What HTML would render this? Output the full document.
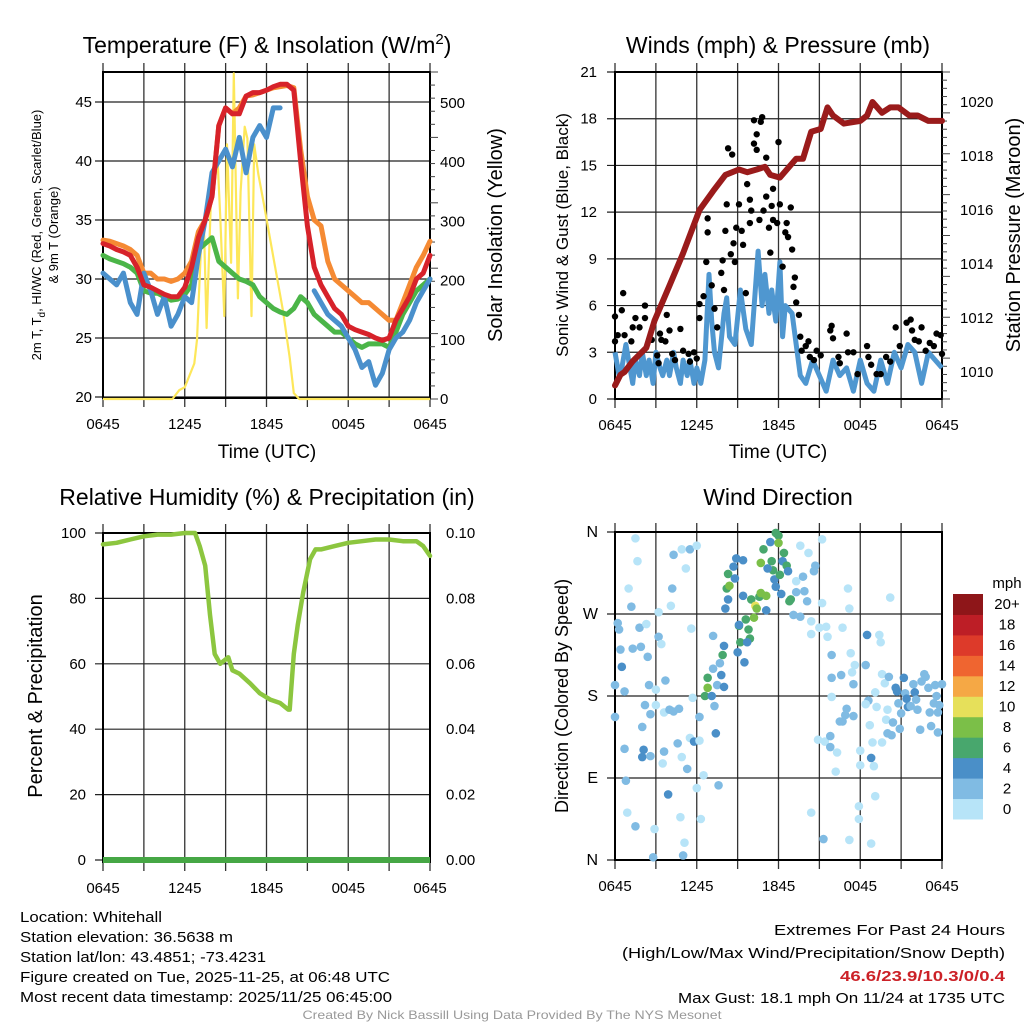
<!DOCTYPE html>
<html><head><meta charset="utf-8"><style>
html,body{margin:0;padding:0;background:#fff;}
svg{display:block;font-family:"Liberation Sans",Arial,sans-serif;}
</style></head><body>
<svg id="svg" width="1024" height="1024" viewBox="0 0 1024 1024" xmlns="http://www.w3.org/2000/svg">
<rect width="1024" height="1024" fill="#fff"/>
<text x="267" y="53" font-size="23" text-anchor="middle">Temperature (F) &amp; Insolation (W/m<tspan dy="-9" font-size="15">2</tspan><tspan dy="9">)</tspan></text>
<text x="778" y="53" font-size="23" text-anchor="middle">Winds (mph) &amp; Pressure (mb)</text>
<text x="267" y="505" font-size="23" text-anchor="middle">Relative Humidity (%) &amp; Precipitation (in)</text>
<text x="778" y="505" font-size="23" text-anchor="middle">Wind Direction</text>
<text x="267" y="458" font-size="19" text-anchor="middle">Time (UTC)</text>
<text x="778" y="458" font-size="19" text-anchor="middle">Time (UTC)</text>
<text transform="translate(41,235) rotate(-90)" font-size="13" text-anchor="middle">2m T, T<tspan dy="4" font-size="10">d</tspan><tspan dy="-4">, HI/WC (Red, Green, Scarlet/Blue)</tspan></text>
<text transform="translate(58,235) rotate(-90)" font-size="13" text-anchor="middle">&amp; 9m T (Orange)</text>
<text transform="translate(502,235) rotate(-90)" font-size="20" text-anchor="middle">Solar Insolation (Yellow)</text>
<text transform="translate(568,235) rotate(-90)" font-size="17" text-anchor="middle">Sonic Wind &amp; Gust (Blue, Black)</text>
<text transform="translate(1020,235) rotate(-90)" font-size="20" text-anchor="middle">Station Pressure (Maroon)</text>
<text transform="translate(42,696) rotate(-90)" font-size="20" text-anchor="middle">Percent &amp; Precipitation</text>
<text transform="translate(568,696) rotate(-90)" font-size="18" text-anchor="middle">Direction (Colored By Speed)</text>
<g font-size="15">
<text x="20" y="922" textLength="142" lengthAdjust="spacingAndGlyphs">Location: Whitehall</text>
<text x="20" y="942" textLength="213" lengthAdjust="spacingAndGlyphs">Station elevation: 36.5638 m</text>
<text x="20" y="962" textLength="246" lengthAdjust="spacingAndGlyphs">Station lat/lon: 43.4851; -73.4231</text>
<text x="20" y="982" textLength="370" lengthAdjust="spacingAndGlyphs">Figure created on Tue, 2025-11-25, at 06:48 UTC</text>
<text x="20" y="1002" textLength="372" lengthAdjust="spacingAndGlyphs">Most recent data timestamp: 2025/11/25 06:45:00</text>
</g>
<g font-size="15" text-anchor="end">
<text x="1005" y="935" textLength="231" lengthAdjust="spacingAndGlyphs">Extremes For Past 24 Hours</text>
<text x="1005" y="958" textLength="383" lengthAdjust="spacingAndGlyphs">(High/Low/Max Wind/Precipitation/Snow Depth)</text>
<text x="1005" y="981" textLength="165" lengthAdjust="spacingAndGlyphs" font-weight="bold" fill="#cc2127">46.6/23.9/10.3/0/0.4</text>
<text x="1005" y="1003" textLength="327" lengthAdjust="spacingAndGlyphs">Max Gust: 18.1 mph On 11/24 at 1735 UTC</text>
</g>
<text x="512" y="1019" font-size="12" fill="#999" text-anchor="middle" textLength="419" lengthAdjust="spacingAndGlyphs">Created By Nick Bassill Using Data Provided By The NYS Mesonet</text>
</svg>
<script>
const xTickLabels = ["0645","","1245","","1845","","0045","","0645"];
const halfHours = [0,0.5,1,1.5,2,2.5,3,3.5,4,4.5,5,5.5,6,6.5,7,7.5,8,8.5,9,9.5,10,10.5,11,11.5,12,12.5,13,13.5,14,14.5,15,15.5,16,16.5,17,17.5,18,18.5,19,19.5,20,20.5,21,21.5,22,22.5,23,23.5,24];
const temp2m = [33,32.8,32.5,32.3,32,31,29.5,29.3,29,28.7,28.5,28.5,29.3,31,33.5,35,37,43,44.5,44,44,45.5,45.8,45.8,46,46.3,46.5,46.5,46,40,34.5,31,29.5,28.5,27.5,27,26,25.7,25.5,25.3,25,24.8,25,26.5,27.5,28.5,30,30.5,32];
const temp9m = [33.3,33.2,33,32.8,32.5,32,30.5,30.5,30,30,29.8,30,30.5,31.5,34,35,37,43,44.5,44,44.5,45.5,45.6,45.8,46,46.2,46.3,46.4,46.2,41,37,35,34.5,31.5,30,29.5,29,28.5,28,28,27.5,27,26.5,26.5,28,29.5,31,32,33.2];
const dewpoint = [32,31.7,31.5,31.3,31,30.5,29,28.8,28.8,28.5,28.2,28.3,28.7,29.5,32.5,33,33.5,31.5,31,30.5,30,29.8,29.5,28.5,28,27.5,27.2,27,27.5,28.5,28,27,26.5,26,25.5,25.5,25,24.5,24.2,24.5,24.5,24.5,24.2,25.5,27,28,29,29.5,30];
const windChill = [30.5,30,29.5,30.5,28,27,30.5,29,27,28.5,26,27,28.5,28,32,35,39,40,41,39.5,42,39,42,43,42,44.5,44.5,null,null,null,null,29,28,27,26.5,26,25,24,22.5,23,21,22,24,25,25.5,26.5,28,29,30];
const tempTicks = [20,25,30,35,40,45];
const insolTicks = [0,100,200,300,400,500];
const insolTimes = [0,5.1,5.6,6.0,6.7,6.9,7.2,7.4,7.6,7.9,8.1,8.4,8.6,8.9,9.1,9.4,9.6,9.9,10.1,10.4,10.6,10.9,11.1,11.4,11.8,12.5,13.2,13.7,14.0,14.4,24];
const insolValues = [0,0,15,20,60,100,260,300,120,320,390,410,310,140,430,230,550,170,350,460,440,140,430,380,330,240,150,70,10,0,0];

const windTimes = [0,0.3,0.5,0.8,1,1.3,1.5,1.8,2,2.3,2.5,2.8,3,3.3,3.5,3.8,4,4.3,4.5,4.8,5,5.3,5.5,5.8,6,6.3,6.6,6.9,7.1,7.3,7.6,8,8.2,8.4,8.8,9.2,9.6,10,10.3,10.5,10.8,11,11.3,11.5,11.8,12.1,12.3,12.5,13,13.3,13.6,14,14.5,15,15.5,16,16.5,17,17.5,18,18.5,19,19.5,20,20.5,21,21.5,22,22.5,23,23.5,24];
const windSpeeds = [3,1.5,2,3.5,2.5,1,2.5,1.5,3,1.5,2.5,1,3,2,1.5,2.5,1.5,3,2,1,2.5,1.5,2.5,1,2,1,2.5,8,5,3,2,5.5,6.5,4,3.5,7,4.5,3.5,7,9.5,6,8,5.5,7,5,8.8,4,6,5.5,3.5,1.5,1,2.5,1.5,0.5,2.5,1.5,2,0.5,2.5,1,0.5,2.5,1,3,2,3.5,3,1,3,2.5,2];
const gustTimes = [0,0,0.2,0.5,0.6,0.7,1.2,1.3,1.5,1.8,2.2,2.2,2.7,3.1,3.2,3.3,3.4,3.7,3.8,4.0,4.2,4.4,4.8,5.0,5.4,5.5,5.8,6.0,6.2,6.2,6.5,6.7,6.8,6.8,7.1,7.3,7.5,7.8,7.9,8.0,8.1,8.2,8.3,8.5,8.6,8.7,8.8,8.9,9.1,9.3,9.4,9.6,9.7,9.9,9.9,10.0,10.2,10.2,10.4,10.4,10.6,10.7,10.8,10.9,11.1,11.1,11.3,11.4,11.5,11.6,11.6,11.9,12.0,12.1,12.3,12.5,12.6,12.7,12.9,13.0,13.1,13.2,13.3,13.5,13.6,13.7,14.0,14.2,14.3,14.6,14.8,15.1,15.8,15.9,16.0,16.4,16.5,17.0,17.1,17.5,17.8,18.5,18.6,18.8,19.2,19.5,19.9,20.2,20.6,20.9,21.4,21.7,21.8,22.0,22.3,22.5,22.8,23.1,23.4,23.6,23.9,24];
const gustSpeeds = [5.3,3.7,4.1,5.7,6.8,4.1,3.7,4.6,5.2,4.6,5.2,6.0,3.8,2.8,2.3,4.2,3.8,3.7,5.4,4.4,2.9,2.5,4.5,3.1,2.9,2.4,3.0,2.6,5.2,6.1,6.6,8.8,10.7,11.6,7.3,5.8,4.6,8.1,8.9,7.0,10.8,12.5,16.1,9.3,15.7,10.0,8.8,11.0,12.5,10.8,9.9,6.8,13.8,12.8,11.3,12.1,17.9,16.4,17.0,16.0,11.5,17.8,18.1,12.1,13.0,15.5,11.0,9.4,12.4,13.5,11.5,11.3,16.5,12.5,8.5,10.7,11.3,10.4,12.3,9.6,7.2,7.8,6.2,5.4,4.0,3.1,3.4,3.7,2.7,2.5,3.1,2.8,4.4,4.7,3.9,2.7,2.3,4.2,3.0,3.0,1.6,3.4,2.7,2.2,1.6,1.6,2.7,2.4,4.6,3.4,4.9,5.1,4.4,3.8,3.7,4.6,3.1,3.6,3.4,4.2,4.1,2.9];
const presTimes = [0,0.4,0.7,1.3,2.3,2.9,4.0,5.0,6.2,7.2,8.1,9.1,9.7,10.4,11.0,11.4,12.1,13.3,13.8,14.4,15.1,15.6,16.0,16.8,18.0,18.5,18.9,19.6,20.2,20.8,21.6,22.2,23.0,24];
const presValues = [1009.5,1009.9,1010,1010.4,1010.9,1011.9,1013.2,1014.4,1016,1016.7,1017.3,1017.5,1017.4,1017.5,1017.6,1017.3,1017.2,1017.9,1017.9,1018.9,1019,1019.8,1019.5,1019.2,1019.3,1019.5,1020,1019.6,1019.8,1019.8,1019.5,1019.5,1019.3,1019.3];
const windTicks = [0,3,6,9,12,15,18,21];
const presTicks = [1010,1012,1014,1016,1018,1020];

const rhTimes = [0,1,2,3,4,5,6,6.75,7.1,7.5,7.85,8.2,8.6,9.2,9.5,10,10.8,11.5,12.3,13,13.6,13.7,14,14.3,14.7,15.2,15.6,16,17,18,19,20,21,22,23,23.5,24];
const rhValues = [96.5,97,98,99,99.5,99.5,100,100,96,90,75,63,60,62,58,57,54,51,49,48,46,46,63,72,82,92,95,95,96,97,97.5,98,98,97.5,97.5,96,93];
const precipTimes = [0,24];
const precipValues = [0,0];
const rhTicks = [0,20,40,60,80,100];
const precipTicks = ["0.00","0.02","0.04","0.06","0.08","0.10"];

const dirTimes = [1.5,1.65,1.0,1.2,0.2,0.3,0.4,0.5,0,0.7,0,0.7,0.8,0.9,1.5,2.9,2.8,1.8,1.9,1.3,2.4,2.3,2.5,2.2,2.6,2.0,2.1,2.0,2.6,3.0,3.0,3.2,3.2,3.4,3.7,3.6,4.0,4.3,4.7,3.6,3.5,3.9,4.2,4.1,4.3,4.9,5.5,6.0,5.2,5.6,5.7,4.6,5.5,5.8,6.2,4.9,5.3,6.2,6.5,6.0,4.8,6.3,5.1,5.0,6.8,6.8,6.6,7.1,7.3,7.4,7.6,7.2,7.7,7.8,7.9,8.0,7.5,8.0,7.2,8.1,8.3,8.2,8.4,8.3,8.8,8.7,8.9,9.0,9.1,9.1,9.2,9.5,9.4,9.4,9.6,9.8,9.9,9.7,10.0,10.2,10.3,10.4,10.6,10.7,11.1,10.9,10.7,11.1,11.4,11.5,11.6,11.2,11.7,11.8,11.8,12.0,12.0,12.1,12.2,12.4,12.3,12.6,12.7,12.8,12.9,13.1,13.3,13.6,13.3,13.6,13.8,13.9,14.1,14.2,14.4,14.6,14.7,14.4,15.2,15.2,15.0,15.5,15.6,15.9,15.9,15.9,14.9,15.4,15.8,15.8,16.3,16.2,14.4,15.3,16.5,16.7,16.9,17.0,16.7,17.1,17.2,16.6,17.3,17.4,17.5,17.6,17.5,17.9,17.9,18.0,18.0,18.4,18.5,18.6,18.4,18.7,18.8,18.9,19.0,19.1,18.8,17.2,19.1,19.2,19.4,19.5,19.6,19.8,19.9,20.0,20.1,20.2,20.0,20.3,19.6,20.4,20.6,20.7,20.8,20.9,21.0,21.2,21.3,21.4,21.5,21.7,21.9,22.0,22.1,22.2,22.4,22.5,22.7,22.8,23.0,23.1,23.2,23.4,23.5,23.6,23.7,23.8,24.0,23.7];
const dirDegrees = [353,328,298,278,260,253,231,212,192,185,157,122,87,52,37,34,3,255,234,232,223,259,192,170,160,146,121,113,114,170,187,272,245,237,197,162,165,163,166,119,106,72,298,279,335,341,341,345,320,254,178,128,134,130,131,113,100,157,93,79,47,45,19,5,200,189,180,180,169,139,82,210,216,203,225,235,192,190,246,276,286,298,301,314,309,322,331,228,257,258,239,217,290,329,264,253,243,239,286,266,279,276,289,293,290,341,326,274,349,328,318,320,308,300,359,356,348,313,292,337,328,323,317,284,286,269,306,267,294,345,311,295,284,337,262,317,323,248,282,352,255,256,245,225,200,179,132,130,136,124,118,97,52,23,152,152,159,166,255,298,276,203,227,206,193,214,158,59,45,120,104,214,247,175,171,148,112,129,103,70,18,22,184,168,247,239,204,194,154,139,201,288,165,137,129,151,189,185,172,144,161,200,183,177,168,169,193,184,176,165,143,196,204,201,189,162,147,172,192,180,162,170,193,140];
const dirSpeeds = [0,0,0,2,2,2,2,4,2,2,2,2,2,0,2,0,2,2,2,2,2,0,2,2,2,2,4,4,2,0,0,0,2,0,2,0,2,2,2,2,0,4,2,0,2,0,2,0,0,0,0,2,0,4,0,0,2,2,0,0,0,0,0,2,6,8,6,4,2,4,2,2,2,4,6,4,2,4,2,4,4,6,8,6,4,4,4,4,6,4,6,4,4,4,6,6,6,4,6,8,10,8,6,8,8,6,8,4,4,6,6,4,4,4,6,6,8,6,4,6,4,6,4,6,6,2,0,2,2,0,2,2,2,0,0,2,2,0,0,0,0,0,0,2,2,0,0,0,2,2,0,0,0,2,2,2,2,2,0,0,0,2,0,0,2,0,2,0,0,0,0,2,4,2,0,0,4,0,0,0,0,0,0,0,0,0,0,0,0,2,2,0,0,2,0,2,4,4,2,2,2,4,2,4,4,2,2,4,2,2,2,2,2,2,2,2,2,2,2,2,2,2,2,2,2,2,2];
const dirTicks = ["N","E","S","W","N"];
const speedBins = ["0","2","4","6","8","10","12","14","16","18","20+"];
const speedColors = ["#b7e4f8","#80bbe3","#4a8fc8","#48a76d","#7bbf48","#e6e05a","#f5a845","#ef6530","#dd3a2a","#bd1e26","#8e1619"];

const NS = "http://www.w3.org/2000/svg";
const svg = document.getElementById("svg");
function mk(tag, attrs, parent){ const e=document.createElementNS(NS,tag); for(const k in attrs) e.setAttribute(k,attrs[k]); (parent||svg).appendChild(e); return e; }
function scaleX(x0,x1){ return h => x0 + h*(x1-x0)/24; }
function lin(d0,d1,p0,p1){ return v => p0 + (v-d0)*(p1-p0)/(d1-d0); }
function pathFrom(xs, ys, fx, fy){
  let d="", pen=false;
  for(let i=0;i<xs.length;i++){
    if(ys[i]===null||ys[i]===undefined){pen=false;continue;}
    d += (pen?"L":"M") + fx(xs[i]).toFixed(1)+","+fy(ys[i]).toFixed(1);
    pen=true;
  }
  return d;
}
function frame(name, x0, y0, x1, y1, fy, yvals, fx){
  const g = mk("g",{});
  
  
  for(let i=0;i<=8;i++){
    const x=fx(i*3);
    const l=mk("line",{x1:x,y1:y0-9,x2:x,y2:y1+9,stroke:"#333","stroke-width":1.3},g);
    
    
    const t=mk("text",{x:x,y:y1+31,"font-size":15,"text-anchor":"middle"},g);
    t.textContent=xTickLabels[i];
    
    
  }
  for(const v of yvals){
    const y=fy(v);
    const l=mk("line",{x1:x0-8,y1:y,x2:x1,y2:y,stroke:"#222","stroke-width":1.2},g);
    
    
  }
  const r=mk("rect",{x:x0,y:y0,width:x1-x0,height:y1-y0,fill:"none",stroke:"#000","stroke-width":2},g);
  
  
  return g;
}
function yLabels(vals, texts, fy, x, anchor, size){
  vals.forEach((v,i)=>{
    const t=mk("text",{x:x,y:fy(v)+5,"font-size":size||15,"text-anchor":anchor});
    t.textContent=texts[i];
    
    
  });
}
function rightTicks(x, y0, y1, n){
  for(let i=0;i<=n;i++){
    const y=y0+(y1-y0)*i/n;
    const l=mk("line",{x1:x,y1:y,x2:x+(i%5===0?8:5),y2:y,stroke:"#444","stroke-width":1});
    
    
  }
}

{
  const fx=scaleX(103,430), fy=lin(20,45,397,102), fi=lin(0,500,399,103);
  frame("temperature-plot",103,72,430,398,fy,tempTicks,fx);
  rightTicks(430,72,399,25);
  yLabels(tempTicks,tempTicks.map(String),fy,92,"end");
  yLabels(insolTicks,insolTicks.map(String),fi,440,"start");
  const ins=mk("path",{d:pathFrom(insolTimes,insolValues,fx,fi),fill:"none",stroke:"#fde75a","stroke-width":2.2,"stroke-linejoin":"round"});
  
  
  const series=[[temp9m,"#f58a33","temp-9m-line"],[dewpoint,"#4bb548","dewpoint-line"],[windChill,"#4a90cc","wind-chill-line"],[temp2m,"#d7222a","temp-2m-line"]];
  for(const s of series){
    const p=mk("path",{d:pathFrom(halfHours,s[0],fx,fy),fill:"none",stroke:s[1],"stroke-width":5,"stroke-linejoin":"round","stroke-linecap":"round"});
    
    
  }
}
{
  const fx=scaleX(615,942), fy=lin(0,21,399,72), fp=lin(1010,1020,372,102);
  frame("wind-plot",615,72,942,399,fy,windTicks,fx);
  rightTicks(942,399,72,40);
  yLabels(windTicks,windTicks.map(String),fy,597,"end");
  yLabels(presTicks,presTicks.map(String),fp,960,"start");
  const w=mk("path",{d:pathFrom(windTimes,windSpeeds,fx,fy),fill:"none",stroke:"#4f97d0","stroke-width":5,"stroke-linejoin":"round"});
  
  
  gustTimes.forEach((t,i)=>{
    const c=mk("circle",{cx:fx(t),cy:fy(gustSpeeds[i]),r:3.2,fill:"#000"});
    
    
  });
  const p=mk("path",{d:pathFrom(presTimes,presValues,fx,fp),fill:"none",stroke:"#9a1b1b","stroke-width":6,"stroke-linejoin":"round","stroke-linecap":"round"});
  
  
}
{
  const fx=scaleX(103,430), fy=lin(0,100,860,533);
  frame("rh-plot",103,533,430,862,fy,rhTicks,fx);
  yLabels(rhTicks,rhTicks.map(String),fy,86,"end");
  yLabels(rhTicks,precipTicks,fy,446,"start");
  const pr=mk("path",{d:pathFrom(precipTimes,precipValues,fx,fy),fill:"none",stroke:"#46a745","stroke-width":6});
  
  
  const rh=mk("path",{d:pathFrom(rhTimes,rhValues,fx,fy),fill:"none",stroke:"#8cc63f","stroke-width":4.5,"stroke-linejoin":"round","stroke-linecap":"round"});
  
  
}
{
  const fx=scaleX(615,942), fy=lin(0,360,860,532);
  const dv=[0,90,180,270,360];
  frame("direction-plot",615,532,942,860,fy,dv,fx);
  yLabels(dv,dirTicks,fy,598,"end",16);
  dirTimes.forEach((t,i)=>{
    const s = (dirSpeeds[i]===undefined) ? 2 : dirSpeeds[i];
    const c=mk("circle",{cx:fx(t),cy:fy(dirDegrees[i]),r:4.3,fill:speedColors[Math.min(10,Math.floor(s/2))]});
    
    
  });
  const mph=mk("text",{x:1007,y:588,"font-size":15,"text-anchor":"middle"});
  mph.textContent="mph";
  
  
  const h=225/speedBins.length;
  speedBins.forEach((lab,i)=>{
    const y=819-(i+1)*h;
    const r=mk("rect",{x:953,y:y,width:30,height:h+0.5,fill:speedColors[i]});
    
    
    const t=mk("text",{x:1007,y:y+h/2+5,"font-size":15,"text-anchor":"middle"});
    t.textContent=lab;
    
    
  });
}
</script>
</body></html>
